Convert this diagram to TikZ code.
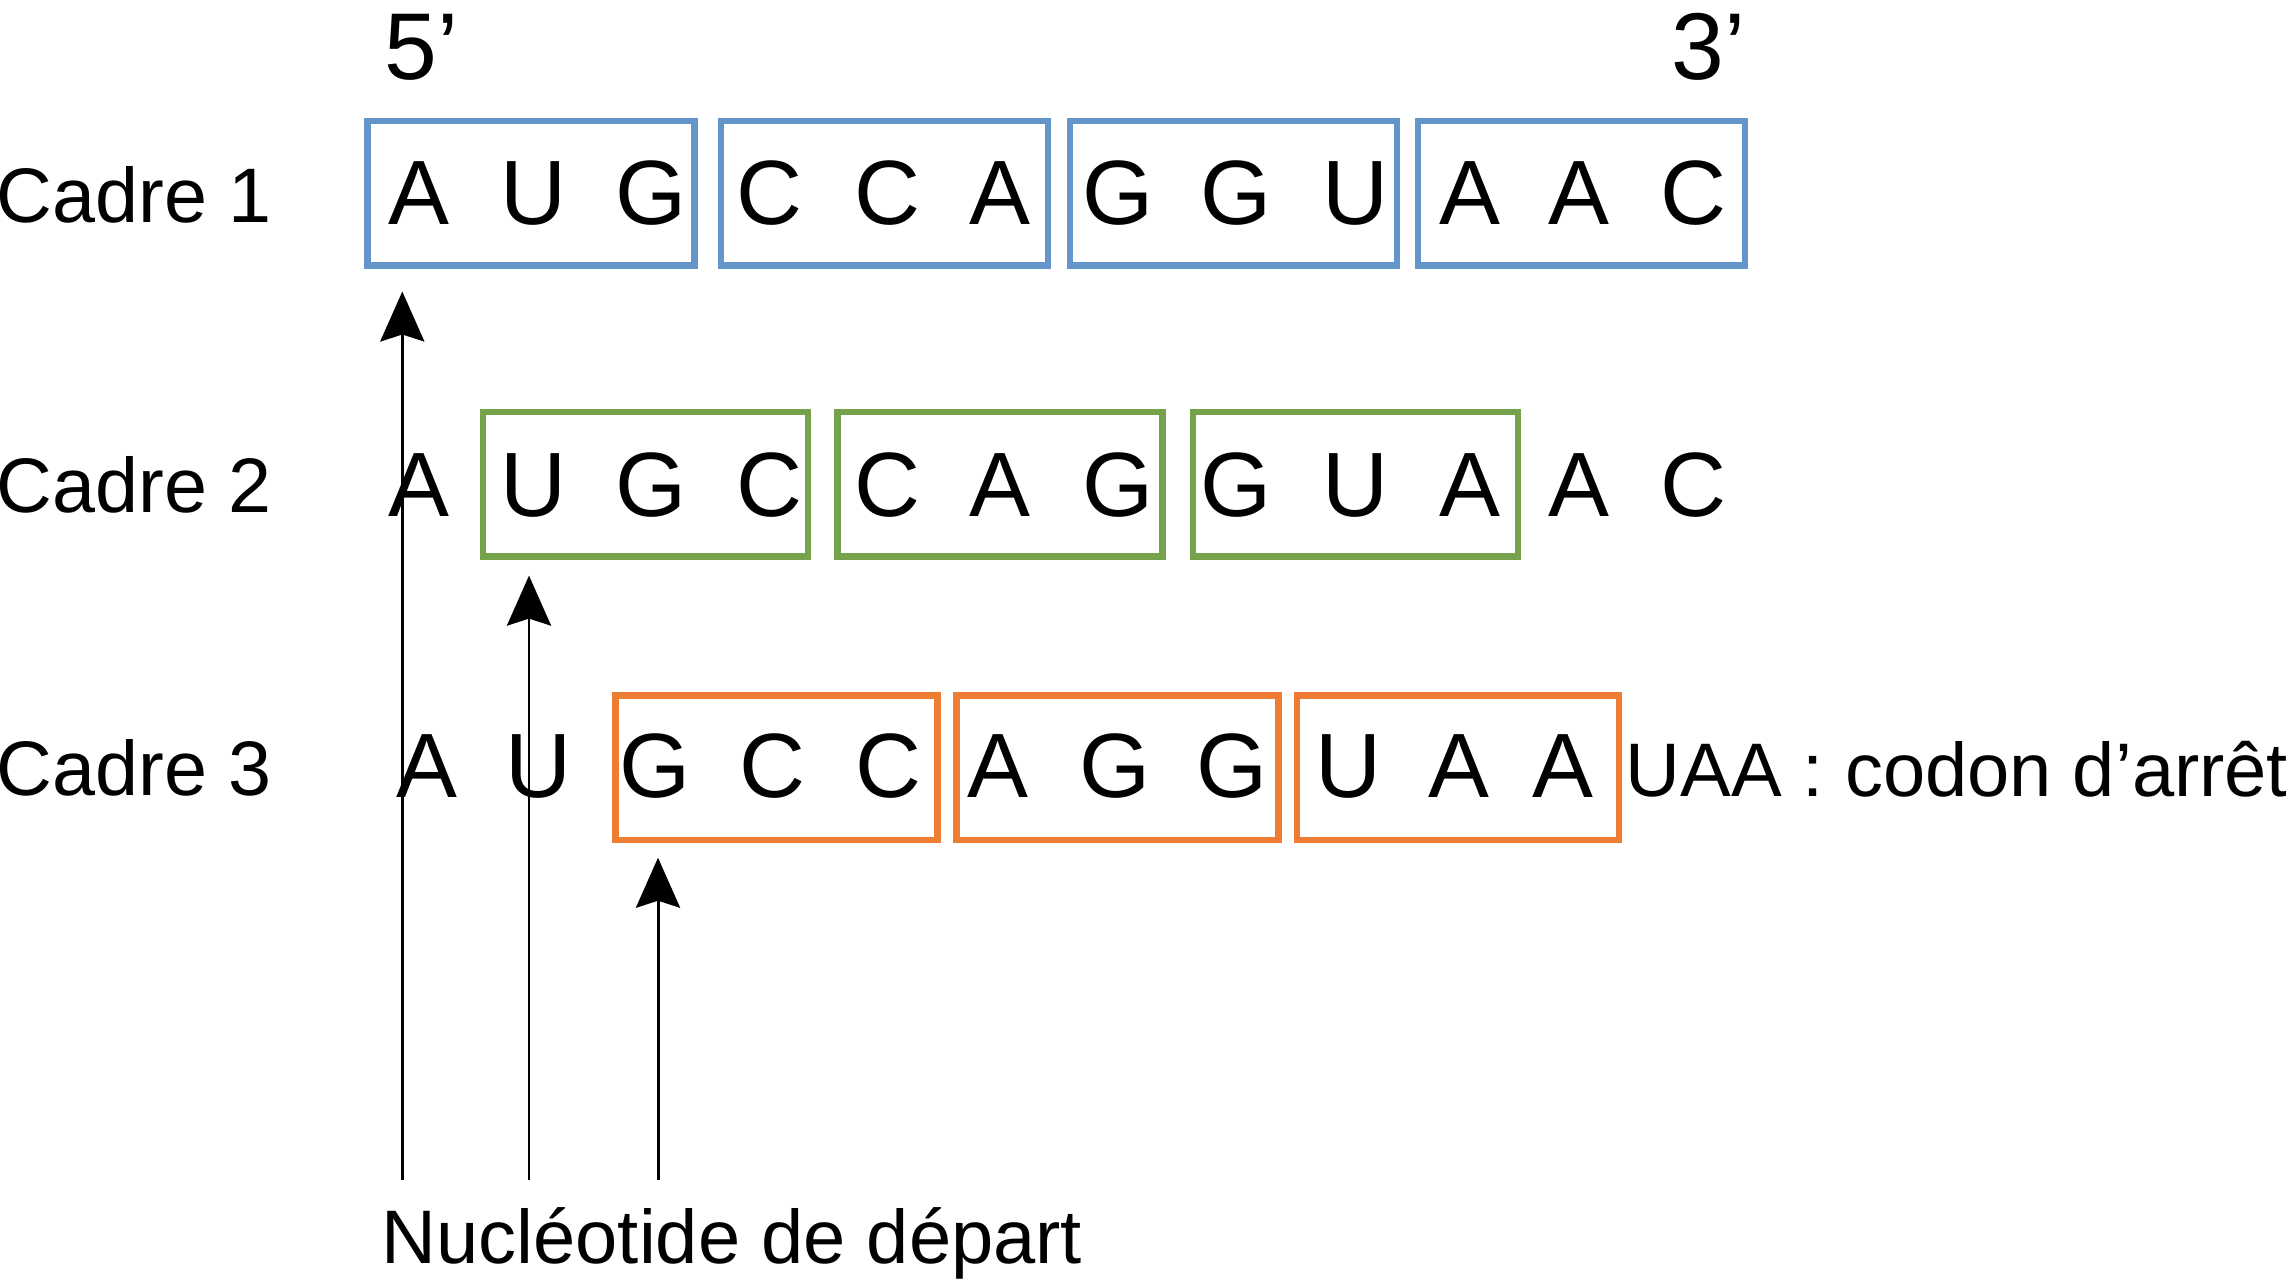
\documentclass[tikz,border=0pt]{standalone}
\usepackage{fontspec}
\setmainfont{Liberation Sans}
\usetikzlibrary{arrows.meta}
\definecolor{cadreblue}{RGB}{99,149,201}
\definecolor{cadregreen}{RGB}{118,162,76}
\definecolor{cadreorange}{RGB}{236,125,50}
\tikzset{
  nuc/.style={anchor=base, inner sep=0pt, font=\fontsize{26}{30}\selectfont},
  codon/.style={draw, line width=1.85pt, minimum height=1.445cm, inner sep=0pt},
  framename/.style={anchor=base west, inner sep=0pt, font=\fontsize{22}{26}\selectfont},
  startarrow/.style={line width=0.85pt, -{Stealth[length=5mm, width=4.4mm, inset=0.7mm]}}
}
\begin{document}
\begin{tikzpicture}
        \useasboundingbox (0,0) rectangle (22.86,-12.82);

        % Ends
        \node[framename, font=\fontsize{27}{32}\selectfont] (five) at (3.84,-0.80) {5'};
        \node[framename, font=\fontsize{27}{32}\selectfont] (three) at (16.71,-0.80) {3'};

        % Frame names
        \node[framename] (cadre1) at (-0.04,-2.228) {Cadre 1};
        \node[framename] (cadre2) at (-0.04,-5.13) {Cadre 2};
        \node[framename] (cadre3) at (-0.04,-7.955) {Cadre 3};

        % Codons
        \foreach \c [count=\i] in {5.31,8.845,12.335,15.815}
            \node[codon, draw=cadreblue, minimum width=3.27cm] (b1\i) at (\c,-1.935) {};
        \foreach \c [count=\i] in {6.455,10.0,13.555}
            \node[codon, draw=cadregreen, minimum width=3.25cm] (b2\i) at (\c,-4.844) {};
        \foreach \c [count=\i] in {7.765,11.175,14.58}
            \node[codon, draw=cadreorange, minimum width=3.22cm] (b3\i) at (\c,-7.677) {};

        % Nucleotides
        \foreach \l/\x [count=\i] in {A/4.19,U/5.33,G/6.51,C/7.69,C/8.87,A/10.0,G/11.18,G/12.36,U/13.55,A/14.70,A/15.79,C/16.93}
            \node[nuc] (n1\i) at (\x,-2.243) {\l};
        \foreach \l/\x [count=\i] in {A/4.19,U/5.33,G/6.51,C/7.69,C/8.87,A/10.0,G/11.18,G/12.36,U/13.55,A/14.70,A/15.79,C/16.93}
            \node[nuc] (n2\i) at (\x,-5.16) {\l};
        \foreach \l/\x [count=\i] in {A/4.27,U/5.38,G/6.55,C/7.72,C/8.88,A/9.98,G/11.15,G/12.32,U/13.48,A/14.59,A/15.63}
            \node[nuc] (n3\i) at (\x,-7.976) {\l};

        \node[framename, font=\fontsize{21.6}{26}\selectfont] (stop) at (16.25,-7.964) {UAA : codon d’arrêt};

        % Start arrows
        \coordinate (s1) at (4.023,-11.80);
        \coordinate (t1) at (4.023,-2.915);
        \coordinate (s2) at (5.29,-11.80);
        \coordinate (t2) at (5.29,-5.756);
        \coordinate (s3) at (6.58,-11.80);
        \coordinate (t3) at (6.58,-8.577);
        \foreach \k in {1,2,3}
            \draw[startarrow] (s\k) -- (t\k);

        \node[framename, font=\fontsize{21.6}{26}\selectfont] (depart) at (3.81,-12.63) {Nucléotide de départ};
\end{tikzpicture}
\end{document}
